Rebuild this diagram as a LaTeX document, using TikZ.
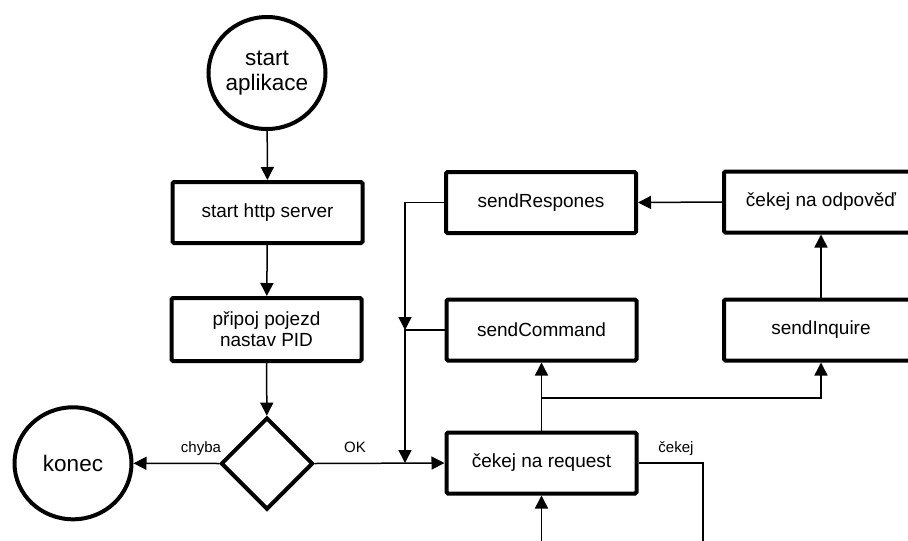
\documentclass[tikz,border=0pt]{standalone}
\usepackage{fontspec}
\setmainfont{Liberation Sans}
\usetikzlibrary{arrows.meta,shapes.geometric}
\begin{document}
\begin{tikzpicture}[x=1pt,y=-1pt,
  box/.style={draw, line width=4pt, rounded corners=1.5pt, minimum width=190pt,
    minimum height=61pt, inner sep=0pt, align=center,
    font=\fontsize{19}{21}\selectfont},
  term/.style={draw, ellipse, line width=4pt, minimum width=117pt,
    minimum height=112pt, inner sep=0pt, align=center,
    font=\fontsize{22.5}{25}\selectfont},
  decision/.style={draw, diamond, line width=4pt, minimum width=92pt,
    minimum height=92pt, inner sep=0pt},
  conn/.style={line width=1.5pt},
  arr/.style={conn, -{Triangle[length=13pt,width=13pt]}},
  lbl/.style={font=\fontsize{15}{17}\selectfont, anchor=base, inner sep=0pt}
]
% canvas
\fill[white] (0,0) rectangle (908,541);
\useasboundingbox (0,0) rectangle (908,541);
\clip (0,0) rectangle (908,541);

% main column
\node[term] (start) at (267,73) {start\\aplikace};
\node[box] (http) at (267.5,212.5) {start http server};
\node[box, minimum height=63pt] (pripoj) at (266.5,329.5) {připoj pojezd\\nastav PID};
\node[decision] (dec) at (267,463.5) {};
\node[term] (konec) at (73,463.3) {konec};

% request handling
\node[box] (req) at (541.5,463) {čekej na request};
\node[box] (cmd) at (541.5,330) {sendCommand};
\node[box] (resp) at (541,202.5) {sendRespones};
\node[box, minimum width=194pt] (inq) at (821,330) {sendInquire};
\node[box, minimum width=194pt] (odp) at (821,202) {čekej na odpověď};

% junction points
\coordinate (j1) at (405,330);
\coordinate (j2) at (405,463);
\coordinate (br) at (541.5,398);
\coordinate (w1) at (703,463);
\coordinate (w2) at (703,560);
\coordinate (w3) at (541.5,560);

% connectors
\draw[arr] (start) -- (http);
\draw[arr] (http) -- (pripoj);
\draw[arr] (pripoj) -- (dec);
\draw[arr] (dec.west) -- (konec.east);
\draw[arr] (dec.east) -- (req.west);
\draw[arr] (resp.west) -| (j1);
\draw[arr] (cmd.west) -- (j1) -- (j2);
\draw[arr] (req.north) -- (cmd.south);
\draw[arr] (br) -| (inq.south);
\draw[arr] (inq.north) -- (odp.south);
\draw[arr] (odp.west) -- (resp.east);
\draw[conn] (req.east) -- (w1) -- (w2);
\draw[arr] (w3) -- (req.south);

% labels
\node[lbl] at (201,452) {chyba};
\node[lbl] at (355,452) {OK};
\node[lbl] at (676,452) {čekej};
\end{tikzpicture}
\end{document}
